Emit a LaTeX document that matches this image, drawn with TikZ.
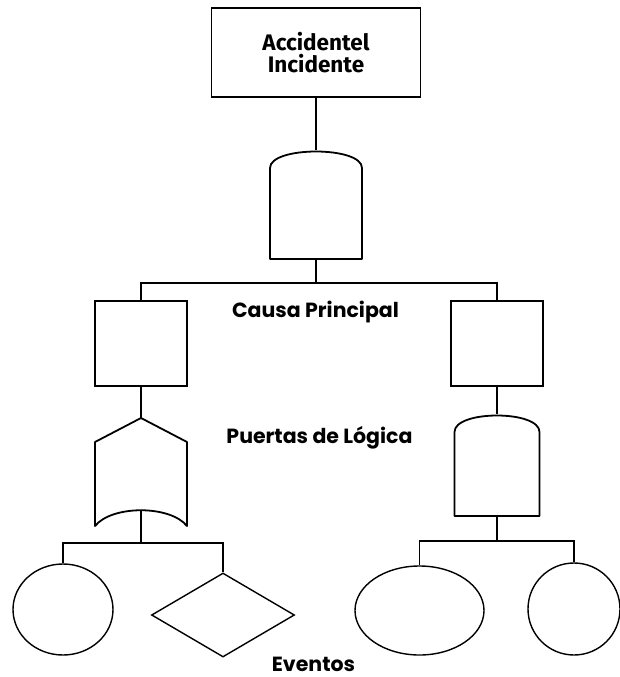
\documentclass[tikz,border=0pt]{standalone}
\usepackage{fontspec}
\setmainfont{Poppins}
\newfontfamily\titulo{Fira Sans}
\usetikzlibrary{shapes.geometric}

\tikzset{
  caja/.style={draw, line width=1.8pt, minimum width=92pt, minimum height=85pt, inner sep=0pt},
  linea/.style={line width=1.3pt},
  puerta/.style={line width=1.8pt, line join=round},
  evento/.style={draw, line width=1.4pt, inner sep=0pt},
  etiqueta/.style={font=\fontsize{20.5}{20}\selectfont\bfseries, inner sep=0pt, anchor=base},
}

\begin{document}
\begin{tikzpicture}[x=1pt, y=-1pt]
	\useasboundingbox (0,0) rectangle (620,677);
	
	% Evento principal
	\node[caja, minimum width=209pt, minimum height=89pt, align=center,
	  font=\titulo\bfseries\fontsize{22.5}{22.5}\selectfont] (accidente) at (316,52.5) {Accidentel\\Incidente};
	
	% Primera puerta Y
	\begin{scope}[shift={(316,150)}]
		\draw[puerta] (-46,109) -- (-46,18) .. controls (-46,-4) and (46,-4) .. (46,18) -- (46,109) -- cycle;
		\coordinate (y1-entrada) at (0,0);
		\coordinate (y1-salida) at (0,109);
	\end{scope}
	
	% Causas principales
	\node[caja] (causa1) at (141,343.5) {};
	\node[caja] (causa2) at (497,343.5) {};
	\coordinate (rama1) at (316,283);
	\draw[linea] (accidente.south) -- (y1-entrada);
	\draw[linea] (y1-salida) -- (rama1);
	\draw[linea] (causa1.north) |- (rama1) -| (causa2.north);
	
	% Puerta O (izquierda)
	\begin{scope}[shift={(141,418)}]
		\draw[puerta] (0,0) -- (46,24) -- (46,108) .. controls (29,87) and (-29,87) .. (-46,108) -- (-46,24) -- cycle;
		\coordinate (o-entrada) at (0,0);
		\coordinate (o-salida) at (0,92);
	\end{scope}
	
	% Segunda puerta Y (derecha)
	\begin{scope}[shift={(497,414)}]
		\draw[puerta] (-42.5,102) -- (-42.5,18) .. controls (-42.5,-4) and (42.5,-4) .. (42.5,18) -- (42.5,102) -- cycle;
		\coordinate (y2-entrada) at (0,0);
		\coordinate (y2-salida) at (0,102);
	\end{scope}
	\draw[linea] (causa1.south) -- (o-entrada);
	\draw[linea] (causa2.south) -- (y2-entrada);
	
	% Eventos de la izquierda
	\coordinate (rama2) at (141,543);
	\node[evento, ellipse, minimum width=100pt, minimum height=91pt] (basico1) at (63,609.5) {};
	\node[evento, diamond, minimum width=143pt, minimum height=84pt] (nodesarrollado) at (223,615) {};
	\draw[linea] (o-salida) -- (rama2);
	\draw[linea] (basico1.north) |- (rama2) -| (nodesarrollado.north);
	
	% Eventos de la derecha
	\coordinate (rama3) at (497,541);
	\node[evento, ellipse, minimum width=129pt, minimum height=89pt] (basico2) at (419.5,610.5) {};
	\node[evento, circle, minimum size=92pt] (basico3) at (574,609) {};
	\draw[linea] (y2-salida) -- (rama3);
	\draw[linea] (basico2.north) |- (rama3) -| (basico3.north);
	
	% Rotulos
	\node[etiqueta] (causa) at (315.5,317) {Causa Principal};
	\node[etiqueta] (puertas) at (319.5,443) {Puertas de Lógica};
	\node[etiqueta] (eventos) at (313.5,671) {Eventos};
\end{tikzpicture}
\end{document}
